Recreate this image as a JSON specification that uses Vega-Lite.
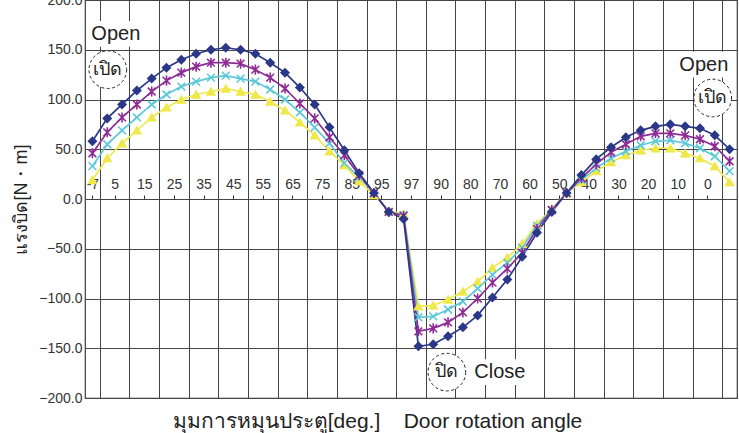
{
  "$schema": "https://vega.github.io/schema/vega-lite/v6.json",
  "width": 652,
  "height": 398,
  "autosize": "none",
  "padding": {"left": 85, "top": 0, "right": 2, "bottom": 35},
  "background": "white",
  "config": {
    "font": "Liberation Sans",
    "view": {"stroke": "#3a3a3a", "strokeWidth": 1.2}
  },
  "datasets": {
    "torque": [
      {"s":"s1","u":-2.5,"v":19},{"s":"s1","u":2.5,"v":41},{"s":"s1","u":7.5,"v":56},{"s":"s1","u":12.5,"v":69},{"s":"s1","u":17.5,"v":82},{"s":"s1","u":22.5,"v":92},{"s":"s1","u":27.5,"v":100},{"s":"s1","u":32.5,"v":105},{"s":"s1","u":37.5,"v":108},{"s":"s1","u":42.5,"v":111},
      {"s":"s1","u":47.5,"v":108},{"s":"s1","u":52.5,"v":105},{"s":"s1","u":57.5,"v":98},{"s":"s1","u":62.5,"v":89},{"s":"s1","u":67.5,"v":77},{"s":"s1","u":72.5,"v":64},{"s":"s1","u":77.5,"v":48},{"s":"s1","u":82.5,"v":34},{"s":"s1","u":87.5,"v":18},{"s":"s1","u":92.5,"v":4},
      {"s":"s1","u":97.5,"v":-12},{"s":"s1","u":102.5,"v":-15},{"s":"s1","u":107.5,"v":-108},{"s":"s1","u":112.5,"v":-107},{"s":"s1","u":117.5,"v":-101},{"s":"s1","u":122.5,"v":-93},{"s":"s1","u":127.5,"v":-83},{"s":"s1","u":132.5,"v":-69},{"s":"s1","u":137.5,"v":-59},{"s":"s1","u":142.5,"v":-45},
      {"s":"s1","u":147.5,"v":-25},{"s":"s1","u":152.5,"v":-10},{"s":"s1","u":157.5,"v":6},{"s":"s1","u":162.5,"v":17},{"s":"s1","u":167.5,"v":28},{"s":"s1","u":172.5,"v":37},{"s":"s1","u":177.5,"v":44},{"s":"s1","u":182.5,"v":49},{"s":"s1","u":187.5,"v":51},{"s":"s1","u":192.5,"v":51},
      {"s":"s1","u":197.5,"v":46},{"s":"s1","u":202.5,"v":41},{"s":"s1","u":207.5,"v":33},{"s":"s1","u":212.5,"v":17},

      {"s":"s2","u":-2.5,"v":33},{"s":"s2","u":2.5,"v":55},{"s":"s2","u":7.5,"v":69},{"s":"s2","u":12.5,"v":82},{"s":"s2","u":17.5,"v":95},{"s":"s2","u":22.5,"v":105},{"s":"s2","u":27.5,"v":113},{"s":"s2","u":32.5,"v":118},{"s":"s2","u":37.5,"v":122},{"s":"s2","u":42.5,"v":124},
      {"s":"s2","u":47.5,"v":121},{"s":"s2","u":52.5,"v":118},{"s":"s2","u":57.5,"v":110},{"s":"s2","u":62.5,"v":100},{"s":"s2","u":67.5,"v":87},{"s":"s2","u":72.5,"v":72},{"s":"s2","u":77.5,"v":56},{"s":"s2","u":82.5,"v":36},{"s":"s2","u":87.5,"v":22},{"s":"s2","u":92.5,"v":6},
      {"s":"s2","u":97.5,"v":-13},{"s":"s2","u":102.5,"v":-16},{"s":"s2","u":107.5,"v":-119},{"s":"s2","u":112.5,"v":-118},{"s":"s2","u":117.5,"v":-111},{"s":"s2","u":122.5,"v":-103},{"s":"s2","u":127.5,"v":-90},{"s":"s2","u":132.5,"v":-76},{"s":"s2","u":137.5,"v":-64},{"s":"s2","u":142.5,"v":-49},
      {"s":"s2","u":147.5,"v":-27},{"s":"s2","u":152.5,"v":-11},{"s":"s2","u":157.5,"v":6},{"s":"s2","u":162.5,"v":19},{"s":"s2","u":167.5,"v":31},{"s":"s2","u":172.5,"v":41},{"s":"s2","u":177.5,"v":48},{"s":"s2","u":182.5,"v":54},{"s":"s2","u":187.5,"v":58},{"s":"s2","u":192.5,"v":59},
      {"s":"s2","u":197.5,"v":56},{"s":"s2","u":202.5,"v":51},{"s":"s2","u":207.5,"v":43},{"s":"s2","u":212.5,"v":28},

      {"s":"s3","u":-2.5,"v":46},{"s":"s3","u":2.5,"v":67},{"s":"s3","u":7.5,"v":82},{"s":"s3","u":12.5,"v":95},{"s":"s3","u":17.5,"v":108},{"s":"s3","u":22.5,"v":119},{"s":"s3","u":27.5,"v":127},{"s":"s3","u":32.5,"v":133},{"s":"s3","u":37.5,"v":137},{"s":"s3","u":42.5,"v":137},
      {"s":"s3","u":47.5,"v":136},{"s":"s3","u":52.5,"v":130},{"s":"s3","u":57.5,"v":122},{"s":"s3","u":62.5,"v":111},{"s":"s3","u":67.5,"v":96},{"s":"s3","u":72.5,"v":81},{"s":"s3","u":77.5,"v":62},{"s":"s3","u":82.5,"v":44},{"s":"s3","u":87.5,"v":24},{"s":"s3","u":92.5,"v":6},
      {"s":"s3","u":97.5,"v":-13},{"s":"s3","u":102.5,"v":-17},{"s":"s3","u":107.5,"v":-133},{"s":"s3","u":112.5,"v":-130},{"s":"s3","u":117.5,"v":-124},{"s":"s3","u":122.5,"v":-114},{"s":"s3","u":127.5,"v":-100},{"s":"s3","u":132.5,"v":-84},{"s":"s3","u":137.5,"v":-70},{"s":"s3","u":142.5,"v":-54},
      {"s":"s3","u":147.5,"v":-30},{"s":"s3","u":152.5,"v":-11},{"s":"s3","u":157.5,"v":6},{"s":"s3","u":162.5,"v":21},{"s":"s3","u":167.5,"v":35},{"s":"s3","u":172.5,"v":47},{"s":"s3","u":177.5,"v":55},{"s":"s3","u":182.5,"v":63},{"s":"s3","u":187.5,"v":66},{"s":"s3","u":192.5,"v":66},
      {"s":"s3","u":197.5,"v":64},{"s":"s3","u":202.5,"v":60},{"s":"s3","u":207.5,"v":53},{"s":"s3","u":212.5,"v":38},

      {"s":"s4","u":-2.5,"v":58},{"s":"s4","u":2.5,"v":81},{"s":"s4","u":7.5,"v":95},{"s":"s4","u":12.5,"v":109},{"s":"s4","u":17.5,"v":121},{"s":"s4","u":22.5,"v":132},{"s":"s4","u":27.5,"v":140},{"s":"s4","u":32.5,"v":146},{"s":"s4","u":37.5,"v":150},{"s":"s4","u":42.5,"v":152},
      {"s":"s4","u":47.5,"v":150},{"s":"s4","u":52.5,"v":146},{"s":"s4","u":57.5,"v":137},{"s":"s4","u":62.5,"v":127},{"s":"s4","u":67.5,"v":112},{"s":"s4","u":72.5,"v":95},{"s":"s4","u":77.5,"v":72},{"s":"s4","u":82.5,"v":49},{"s":"s4","u":87.5,"v":26},{"s":"s4","u":92.5,"v":6},
      {"s":"s4","u":97.5,"v":-13},{"s":"s4","u":102.5,"v":-20},{"s":"s4","u":107.5,"v":-148},{"s":"s4","u":112.5,"v":-146},{"s":"s4","u":117.5,"v":-138},{"s":"s4","u":122.5,"v":-129},{"s":"s4","u":127.5,"v":-117},{"s":"s4","u":132.5,"v":-99},{"s":"s4","u":137.5,"v":-81},{"s":"s4","u":142.5,"v":-58},
      {"s":"s4","u":147.5,"v":-34},{"s":"s4","u":152.5,"v":-13},{"s":"s4","u":157.5,"v":6},{"s":"s4","u":162.5,"v":24},{"s":"s4","u":167.5,"v":40},{"s":"s4","u":172.5,"v":52},{"s":"s4","u":177.5,"v":62},{"s":"s4","u":182.5,"v":69},{"s":"s4","u":187.5,"v":73},{"s":"s4","u":192.5,"v":75},
      {"s":"s4","u":197.5,"v":73},{"s":"s4","u":202.5,"v":71},{"s":"s4","u":207.5,"v":64},{"s":"s4","u":212.5,"v":50}
    ],
    "notes": [
      {"t":"Open","k":"word","u":5.4,"v":166},
      {"t":"Open","k":"word","u":203.8,"v":135},
      {"t":"Close","k":"word","u":135,"v":-174},
      {"t":"เปิด","k":"circle","u":2.7,"v":130},
      {"t":"เปิด","k":"circle","u":206.8,"v":101.5},
      {"t":"ปิด","k":"circle","u":117.1,"v":-174}
    ]
  },
  "resolve": {"axis": {"x": "independent"}},
  "layer": [
    {
      "data": {"name": "torque"},
      "mark": {"type": "line", "strokeWidth": 1.7},
      "encoding": {
        "x": {
          "field": "u", "type": "quantitative",
          "scale": {"domain": [-5, 215], "nice": false, "zero": false},
          "axis": {
            "orient": "bottom",
            "values": [0,10,20,30,40,50,60,70,80,90,100,110,120,130,140,150,160,170,180,190,200,210],
            "labels": false, "ticks": false, "domain": false,
            "grid": true, "gridColor": "#444", "gridWidth": 1,
            "title": "มุมการหมุนประตู[deg.]\u00a0\u00a0\u00a0\u00a0Door rotation angle",
            "titleFontSize": 21, "titleFontWeight": "normal", "titleColor": "#222",
            "titleX": 292, "titleY": 29, "titleAlign": "center", "titleBaseline": "alphabetic"
          }
        },
        "y": {
          "field": "v", "type": "quantitative",
          "scale": {"domain": [-200, 200], "nice": false, "zero": false},
          "axis": {
            "values": [-200,-150,-100,-50,0,50,100,150,200],
            "format": ".1f",
            "ticks": false, "domain": false,
            "grid": true, "gridColor": "#444", "gridWidth": 1,
            "labelFontSize": 14, "labelColor": "#333", "labelPadding": 3,
            "title": "แรงบิด[N・m]",
            "titleFontSize": 18, "titleFontWeight": "normal", "titleColor": "#222", "titlePadding": 8
          }
        },
        "color": {
          "field": "s", "type": "nominal",
          "scale": {"domain": ["s1","s2","s3","s4"], "range": ["#efe84a","#5cc8d8","#8e2c96","#2b3888"]},
          "legend": null
        }
      }
    },
    {
      "data": {"name": "torque"},
      "mark": {"type": "point", "filled": true, "strokeWidth": 1.6, "opacity": 1, "size": 60},
      "encoding": {
        "x": {
          "field": "u", "type": "quantitative",
          "axis": {
            "orient": "top", "offset": -199,
            "values": [-2.5,5,15,25,35,45,55,65,75,85,95,105,115,125,135,145,155,165,175,185,195,205],
            "labelExpr": "datum.value < 0 ? '-7' : datum.value <= 95 ? datum.value : datum.value == 105 ? '97' : 205 - datum.value",
            "domain": false, "grid": false,
            "ticks": true, "tickSize": 4, "tickColor": "#333", "tickWidth": 1,
            "labelFontSize": 14, "labelColor": "#333", "labelPadding": 4,
            "labelFlush": false, "labelOverlap": false,
            "title": null
          }
        },
        "y": {"field": "v", "type": "quantitative"},
        "color": {
          "field": "s", "type": "nominal",
          "scale": {"domain": ["s1","s2","s3","s4"], "range": ["#efe84a","#5cc8d8","#8e2c96","#2b3888"]},
          "legend": null
        },
        "stroke": {
          "field": "s", "type": "nominal",
          "scale": {"domain": ["s1","s2","s3","s4"], "range": ["#efe84a","#5cc8d8","#8e2c96","#2b3888"]},
          "legend": null
        },
        "shape": {
          "field": "s", "type": "nominal",
          "scale": {"domain": ["s1","s2","s3","s4"], "range": ["triangle-up", "M-1,-1L1,1M-1,1L1,-1", "M-1,-1L1,1M-1,1L1,-1M0,-1.3L0,1.3", "diamond"]},
          "legend": null
        }
      }
    },
    {
      "data": {"name": "notes"},
      "transform": [{"filter": "datum.k == 'word'"}],
      "mark": {"type": "point", "shape": "M-1,-0.45H1V0.45H-1Z", "filled": true, "fill": "white", "strokeWidth": 0, "opacity": 1, "size": 3300},
      "encoding": {
        "x": {"field": "u", "type": "quantitative", "axis": null},
        "y": {"field": "v", "type": "quantitative"}
      }
    },
    {
      "data": {"name": "notes"},
      "transform": [{"filter": "datum.k == 'circle'"}],
      "mark": {"type": "point", "shape": "circle", "filled": false, "fill": "white", "fillOpacity": 1, "stroke": "#222", "strokeWidth": 1, "strokeDash": [3, 2.5], "opacity": 1, "size": 1420},
      "encoding": {
        "x": {"field": "u", "type": "quantitative", "axis": null},
        "y": {"field": "v", "type": "quantitative"}
      }
    },
    {
      "data": {"name": "notes"},
      "transform": [{"filter": "datum.k == 'word'"}],
      "mark": {"type": "text", "fontSize": 20, "color": "#222", "align": "center", "baseline": "middle"},
      "encoding": {
        "x": {"field": "u", "type": "quantitative", "axis": null},
        "y": {"field": "v", "type": "quantitative"},
        "text": {"field": "t"}
      }
    },
    {
      "data": {"name": "notes"},
      "transform": [{"filter": "datum.k == 'circle'"}],
      "mark": {"type": "text", "fontSize": 18, "color": "#222", "align": "center", "baseline": "middle"},
      "encoding": {
        "x": {"field": "u", "type": "quantitative", "axis": null},
        "y": {"field": "v", "type": "quantitative"},
        "text": {"field": "t"}
      }
    }
  ]
}
